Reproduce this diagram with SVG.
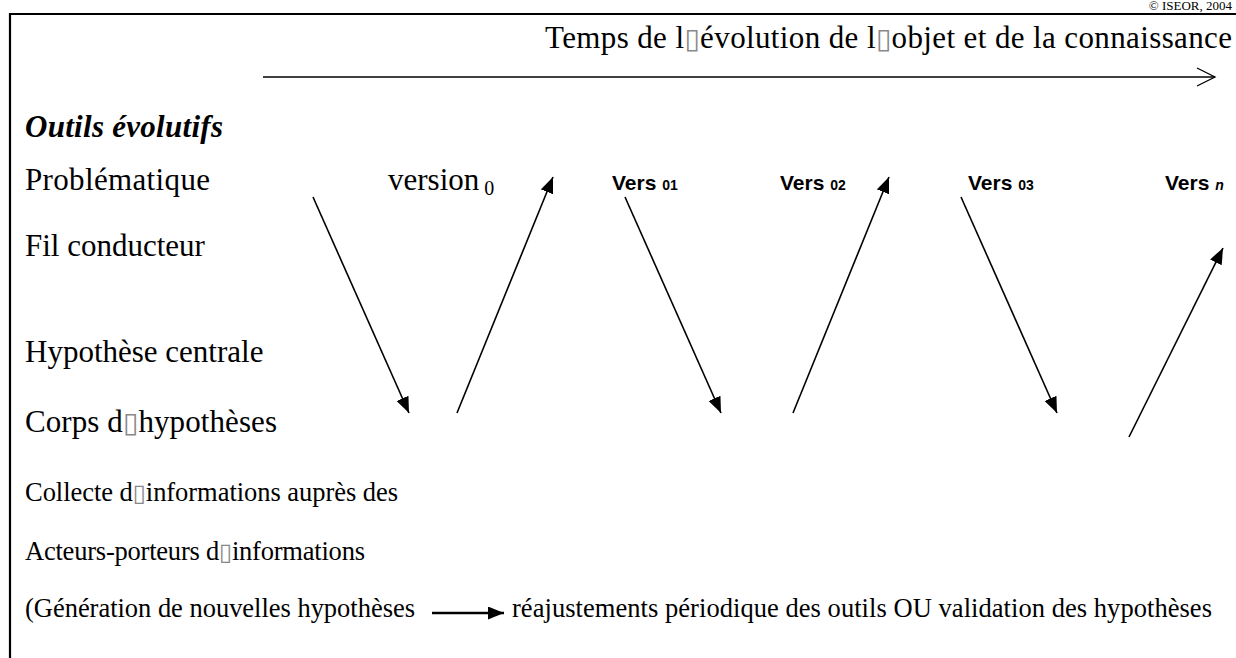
<svg xmlns="http://www.w3.org/2000/svg" width="1236" height="658" viewBox="0 0 1236 658">
  <defs>
    <marker id="solid" markerUnits="userSpaceOnUse" markerWidth="18" markerHeight="14" refX="16" refY="6.5" orient="auto">
      <path d="M0,0 L16,6.5 L0,13 z" fill="#000"/>
    </marker>
    <marker id="open" markerUnits="userSpaceOnUse" markerWidth="22" markerHeight="22" refX="19" refY="10" orient="auto">
      <path d="M1,1 L19,10 L1,19" fill="none" stroke="#000" stroke-width="1.3"/>
    </marker>
  </defs>
  <style>
    .serif { font-family: "Liberation Serif", "Times New Roman", serif; fill: #000; }
    .big { font-size: 31px; }
    .small { font-size: 26.5px; }
    .sans { font-family: "Liberation Sans", Arial, sans-serif; font-weight: bold; fill: #000; font-size: 21px; }
    .sub { font-size: 14px; }
    .box { fill: #888; font-family: "DejaVu Sans", sans-serif; font-size: 0.9em; }
    .frame { stroke: #000; stroke-width: 2.2; fill: none; }
    .conn { stroke: #000; stroke-width: 1.6; fill: none; }
  </style>
  <rect width="1236" height="658" fill="#fff"/>

  <g id="frame">
    <line class="frame" x1="9" y1="14" x2="1236" y2="14"/>
    <line class="frame" x1="10" y1="13" x2="10" y2="658"/>
    <text class="serif" x="1232" y="10" font-size="13" text-anchor="end">© ISEOR, 2004</text>
  </g>

  <g id="title">
    <text class="serif big" x="545" y="48" textLength="687">Temps de l<tspan class="box">▯</tspan>évolution de l<tspan class="box">▯</tspan>objet et de la connaissance</text>
  </g>

  <g id="labels">
    <text class="serif big" x="25" y="137" font-weight="bold" font-style="italic" textLength="198">Outils évolutifs</text>
    <text id="problematique" class="serif big" x="25" y="190" textLength="185">Problématique</text>
    <text id="fil" class="serif big" x="25" y="256">Fil conducteur</text>
    <text id="hypothese" class="serif big" x="25" y="362">Hypothèse centrale</text>
    <text id="corps" class="serif big" x="25" y="432" textLength="252">Corps d<tspan class="box">▯</tspan>hypothèses</text>
    <text id="collecte" class="serif small" x="25" y="501" textLength="373">Collecte d<tspan class="box">▯</tspan>informations auprès des</text>
    <text id="acteurs" class="serif small" x="25" y="560" textLength="340">Acteurs-porteurs d<tspan class="box">▯</tspan>informations</text>
    <text id="generation" class="serif small" x="25" y="617" textLength="390">(Génération de nouvelles hypothèses</text>
    <text id="reajustements" class="serif small" x="512" y="617" textLength="700">réajustements périodique des outils OU validation des hypothèses</text>
  </g>

  <g id="versions">
    <text id="v0" class="serif big" x="388" y="190">version<tspan font-size="20" dy="5"> 0</tspan></text>
    <text id="v01" class="sans" x="612" y="190">Vers <tspan class="sub">01</tspan></text>
    <text id="v02" class="sans" x="780" y="190">Vers <tspan class="sub">02</tspan></text>
    <text id="v03" class="sans" x="968" y="190">Vers <tspan class="sub">03</tspan></text>
    <text id="vn" class="sans" x="1165" y="190">Vers <tspan class="sub" font-style="italic">n</tspan></text>
  </g>

  <g id="connectors">
    <line class="conn" x1="263" y1="77" x2="1215" y2="77" marker-end="url(#open)"/>
    <line class="conn" x1="313" y1="197" x2="409" y2="413" marker-end="url(#solid)"/>
    <line class="conn" x1="457" y1="413" x2="553" y2="177" marker-end="url(#solid)"/>
    <line class="conn" x1="625" y1="197" x2="721" y2="413" marker-end="url(#solid)"/>
    <line class="conn" x1="793" y1="413" x2="889" y2="177" marker-end="url(#solid)"/>
    <line class="conn" x1="961" y1="197" x2="1057" y2="413" marker-end="url(#solid)"/>
    <line class="conn" x1="1129" y1="437" x2="1223" y2="248" marker-end="url(#solid)"/>
    <line x1="432" y1="613" x2="504" y2="613" stroke="#000" stroke-width="2.6" marker-end="url(#solid)"/>
  </g>
</svg>
